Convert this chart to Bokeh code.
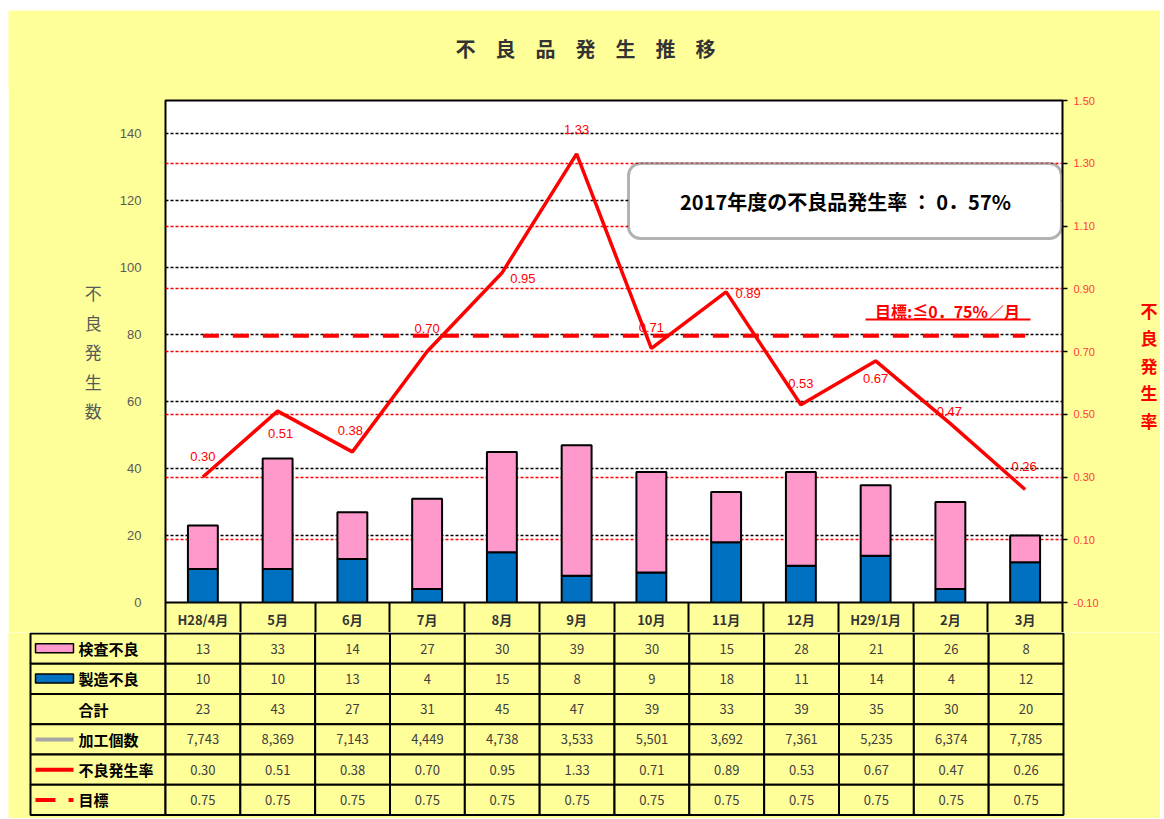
from bokeh.plotting import figure
from bokeh.models import (ColumnDataSource, Range1d, LinearAxis, FixedTicker, Grid,
                          NumeralTickFormatter, Label, BoxAnnotation, Spacer)
from bokeh.layouts import row
from bokeh.embed import file_html
from bokeh.resources import INLINE
from bokeh.core.properties import value

# ---------------- data ----------------
months = ["H28/4月", "5月", "6月", "7月", "8月", "9月", "10月", "11月", "12月", "H29/1月", "2月", "3月"]
kensa = [13, 33, 14, 27, 30, 39, 30, 15, 28, 21, 26, 8]          # 検査不良
seizo = [10, 10, 13, 4, 15, 8, 9, 18, 11, 14, 4, 12]             # 製造不良
total = [23, 43, 27, 31, 45, 47, 39, 33, 39, 35, 30, 20]         # 合計
kakou = [7743, 8369, 7143, 4449, 4738, 3533, 5501, 3692, 7361, 5235, 6374, 7785]  # 加工個数
rate = [0.30, 0.51, 0.38, 0.70, 0.95, 1.33, 0.71, 0.89, 0.53, 0.67, 0.47, 0.26]  # 不良発生率
target = [0.75] * 12                                             # 目標
left_ticks = [0, 20, 40, 60, 80, 100, 120, 140]
right_ticks = [-0.10, 0.10, 0.30, 0.50, 0.70, 0.90, 1.10, 1.30, 1.50]
row_labels = ["検査不良", "製造不良", "合計", "加工個数", "不良発生率", "目標"]
title_text = "不　良　品　発　生　推　移"
box_text = "2017年度の不良品発生率 ： 0．57%"
target_text = "目標:≦0．75%／月"
left_label = "不良発生数"
right_label = "不良発生率"

# ---------------- styles ----------------
YEL = "#FFFF99"
PINK = "#FF99CC"
BLUE = "#0070C0"
RED = "#FF0000"
JP = "Noto Sans CJK JP"
label_dx = [0, 3, -2, 0, 21, 0, 0, 22, 0, 0, -1, -1]
label_dy = [-21, 22, -21, -23, 5, -24, -21, 2, -21, 18, -12, -23]

W = 1152
TTL_H = 81
FL, FR, FT, FH, FB = 157, 97, 10, 502, 30
N = len(months)
centers = [i + 0.5 for i in range(N)]
bounds = [float(i) for i in range(N + 1)]

# ---------------- title strip ----------------
tf = figure(width=W, height=TTL_H, x_range=Range1d(0, W), y_range=Range1d(0, TTL_H),
            output_backend="svg", toolbar_location=None, title_location=None,
            x_axis_location=None, y_axis_location=None, min_border=0,
            background_fill_color=YEL, border_fill_color=YEL, outline_line_color=None)
tf.grid.visible = False
tf.text(x=[577], y=[TTL_H - 38], text=[title_text], text_align="center",
        text_baseline="middle", text_font=value(JP), text_font_style="bold",
        text_font_size="20px", text_color="#333333")

# ---------------- chart ----------------
src = ColumnDataSource(dict(
    x=centers, seizo=seizo, kensa=kensa, rate=rate, target=target,
    rate_txt=[f"{r:.2f}" for r in rate], dx=label_dx, dy=label_dy))

p = figure(width=W, height=FT + FH + FB, x_range=Range1d(0, N), y_range=Range1d(0, 150),
           output_backend="svg", toolbar_location=None, title_location=None,
           min_border_left=FL, min_border_right=FR, min_border_top=FT, min_border_bottom=FB,
           background_fill_color="white", border_fill_color=YEL,
           outline_line_color="black", outline_line_width=2)
p.extra_y_ranges = {"rate": Range1d(-0.10, 1.50)}
p.xgrid.visible = False

# x axis = header row of the data table
xa = p.xaxis[0]
xa.ticker = FixedTicker(ticks=centers, minor_ticks=bounds)
xa.major_label_overrides = {c: m for c, m in zip(centers, months)}
xa.axis_line_color = None
xa.major_tick_line_color = None
xa.major_tick_out = 0
xa.minor_tick_in = 0
xa.minor_tick_out = 30
xa.minor_tick_line_color = "black"
xa.minor_tick_line_width = 2
xa.major_label_standoff = -23
xa.major_label_text_font = JP
xa.major_label_text_font_size = "13px"
xa.major_label_text_font_style = "bold"
xa.major_label_text_color = "#333333"

ya = p.yaxis[0]
ya.ticker = FixedTicker(ticks=left_ticks)
ya.major_tick_line_color = None
ya.minor_tick_line_color = None
ya.axis_line_color = None
ya.major_label_standoff = 18
ya.major_label_text_color = "#595959"
ya.major_label_text_font = "Liberation Sans"
ya.major_label_text_font_size = "13px"
ya.axis_label = "\n".join(left_label)
ya.axis_label_text_font = JP
ya.axis_label_text_font_size = "17px"
ya.axis_label_text_font_style = "normal"
ya.axis_label_text_color = "#595959"
ya.axis_label_text_line_height = 1.18
ya.axis_label_standoff = 15

p.ygrid.ticker = FixedTicker(ticks=left_ticks[1:])
p.ygrid.grid_line_color = "black"
p.ygrid.grid_line_dash = "3 2"
p.ygrid.grid_line_width = 1.5

rg = Grid(dimension=1, y_range_name="rate", ticker=FixedTicker(ticks=right_ticks[1:-1]),
          grid_line_color=RED, grid_line_dash="3 2", grid_line_width=1.5)
p.add_layout(rg)

ra = LinearAxis(y_range_name="rate", ticker=FixedTicker(ticks=right_ticks),
                formatter=NumeralTickFormatter(format="0.00"))
ra.axis_line_color = None
ra.minor_tick_line_color = None
ra.major_tick_in = 0
ra.major_tick_out = 5
ra.major_tick_line_color = "black"
ra.major_tick_line_width = 1.5
ra.major_label_standoff = 6
ra.major_label_text_color = "#FF3B3B"
ra.major_label_text_font = "Liberation Sans"
ra.major_label_text_font_size = "11px"
ra.axis_label = " \n" + "\n".join(right_label)
ra.axis_label_text_font = JP
ra.axis_label_text_font_size = "17px"
ra.axis_label_text_font_style = "bold"
ra.axis_label_text_color = RED
ra.axis_label_text_line_height = 1.1
ra.axis_label_standoff = 39
p.add_layout(ra, "right")

for ax in (ya, ra):
    if "axis_label_orientation" in ax.properties():
        ax.axis_label_orientation = "horizontal"

p.vbar_stack(["seizo", "kensa"], x="x", width=0.4, color=[BLUE, PINK],
             line_color="black", line_width=2, source=src)
p.line("x", "target", y_range_name="rate", line_color=RED, line_width=4,
       line_dash="16 14", source=src)
p.line("x", "rate", y_range_name="rate", line_color=RED, line_width=3.5, source=src)
p.text("x", "rate", text="rate_txt", y_range_name="rate", x_offset="dx", y_offset="dy",
       text_align="center", text_baseline="middle", text_color=RED,
       text_font=value("Liberation Sans"), text_font_size="13px", source=src)

# summary box
p.add_layout(BoxAnnotation(left=463, right=896, bottom=364, top=439,
                           left_units="screen", right_units="screen",
                           top_units="screen", bottom_units="screen",
                           fill_color="white", fill_alpha=1, line_color="black",
                           line_width=3, border_radius=12))
p.add_layout(Label(x=680, y=401, x_units="screen", y_units="screen", text=box_text,
                   text_align="center", text_baseline="middle", text_font=JP,
                   text_font_style="bold", text_font_size="20px", text_color="black"))

# target text with underline
p.add_layout(Label(x=782, y=292, x_units="screen", y_units="screen", text=target_text,
                   text_align="center", text_baseline="middle", text_font=JP,
                   text_font_style="bold", text_font_size="16px", text_color=RED))
p.add_layout(BoxAnnotation(left=700, right=865, bottom=282, top=284,
                           left_units="screen", right_units="screen",
                           top_units="screen", bottom_units="screen",
                           fill_color=RED, fill_alpha=1, line_color=None))

# ---------------- table ----------------
CW = (1063 - 165) / 12.0
RH = 181.5 / 6.0
TH = 186
t = figure(width=W, height=TH,
           x_range=Range1d((8 - 165) / CW, (8 + W - 165) / CW),
           y_range=Range1d((TH - 1) / RH, -1 / RH),
           output_backend="svg", toolbar_location=None, title_location=None,
           x_axis_location=None, y_axis_location=None, min_border=0,
           background_fill_color=YEL, border_fill_color=YEL, outline_line_color=None)
t.grid.visible = False

lab_left = (30 - 165) / CW
L, R, T, B = [], [], [], []
for r in range(len(row_labels)):
    L.append(lab_left); R.append(0); T.append(r); B.append(r + 1)
    for i in range(N):
        L.append(i); R.append(i + 1); T.append(r); B.append(r + 1)
t.quad(left=L, right=R, top=T, bottom=B, fill_color=YEL, line_color="black", line_width=2)

rows = [
    [str(v) for v in kensa],
    [str(v) for v in seizo],
    [str(v) for v in total],
    [f"{v:,}" for v in kakou],
    [f"{v:.2f}" for v in rate],
    [f"{v:.2f}" for v in target],
]
cx, cy, ct = [], [], []
for r, vals in enumerate(rows):
    for i, s in enumerate(vals):
        cx.append(i + 0.5); cy.append(r + 0.5); ct.append(s)
t.text(x=cx, y=cy, text=ct, text_align="center", text_baseline="middle",
       text_font=value(JP), text_font_size="13px", text_color="#404040")

txt_x = (78 - 165) / CW
t.text(x=[txt_x] * len(row_labels), y=[r + 0.5 for r in range(len(row_labels))],
       text=row_labels, text_align="left", text_baseline="middle",
       text_font=value(JP), text_font_style="bold", text_font_size="15px", text_color="black")

sw_l = (35 - 165) / CW
sw_r = (73 - 165) / CW
t.quad(left=[sw_l, sw_l], right=[sw_r, sw_r], top=[0.34, 1.34], bottom=[0.64, 1.64],
       fill_color=[PINK, BLUE], line_color="black", line_width=1.5)
t.segment(x0=[sw_l], y0=[3.5], x1=[sw_r], y1=[3.5], line_color="#A6A6A6", line_width=4)
t.segment(x0=[sw_l], y0=[4.5], x1=[sw_r], y1=[4.5], line_color=RED, line_width=4)
t.segment(x0=[sw_l], y0=[5.5], x1=[sw_r], y1=[5.5], line_color=RED, line_width=4,
          line_dash="20 13")

roots = [Spacer(width=W + 8, height=10),
         row(Spacer(width=8, height=TTL_H), tf),
         row(Spacer(width=8, height=FT + FH + FB), p, styles={"margin-top": "-1px"}),
         row(Spacer(width=8, height=TH), t)]
open("out.html", "w").write(file_html(roots, INLINE))
